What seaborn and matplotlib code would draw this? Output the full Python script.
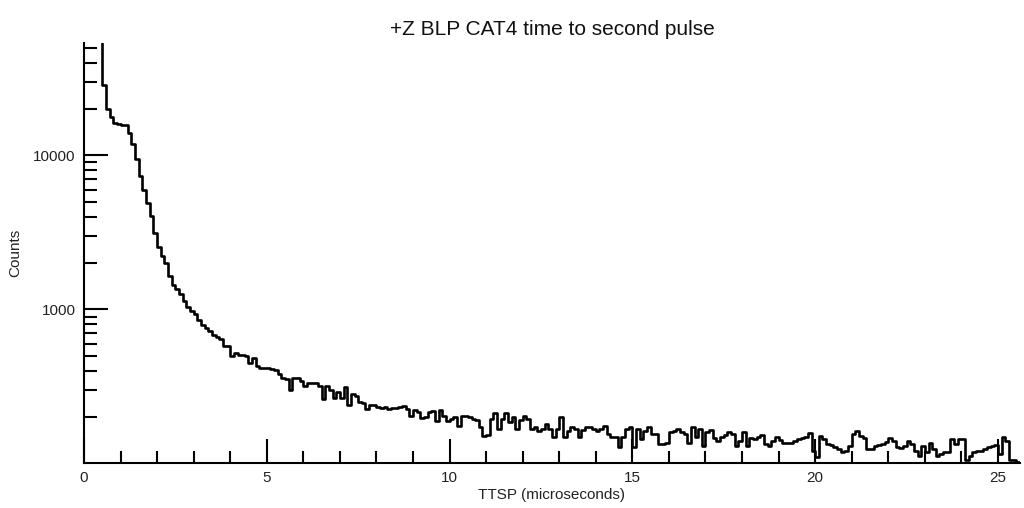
import numpy as np
import pandas as pd
import seaborn as sns
import matplotlib.pyplot as plt
from matplotlib.ticker import LogLocator, MultipleLocator, NullFormatter

# histogram of time to second pulse, bins of 0.1 us starting at 0
bin_width = 0.1
counts_0_to_3 = [80000, 80000, 80000, 80000, 80000,
                 28400, 20000, 17700, 16200, 15900,
                 15800, 15800, 13970, 11900, 9520,
                 7390, 6000, 4920, 4030, 3145,
                 2550, 2220, 1990, 1650, 1440,
                 1350, 1255, 1135, 1043, 977]
counts_3_to_6 = [940, 855, 790, 760, 726, 681, 664, 642, 581, 576,
                 496, 521, 510, 505, 500, 453, 481, 427, 420, 418,
                 415, 410, 406, 381, 362, 353, 301, 357, 362, 344]
counts_6_to_9 = [320, 336, 333, 333, 320, 263, 317, 300, 265, 290,
                 265, 312, 240, 282, 276, 250, 248, 226, 240, 240,
                 232, 228, 232, 226, 230, 228, 232, 237, 226, 205]
counts_9_to_12 = [224, 215, 197, 200, 215, 218, 190, 222, 205, 190,
                  195, 200, 176, 205, 205, 202, 195, 192, 174, 152,
                  153, 195, 213, 168, 195, 213, 185, 200, 168, 193]
counts_12_to_15 = [205, 195, 168, 172, 164, 168, 180, 168, 148, 168,
                   200, 148, 164, 174, 168, 150, 166, 172, 172, 168,
                   164, 168, 176, 156, 150, 148, 128, 148, 168, 172]
counts_15_to_18 = [128, 168, 145, 164, 172, 156, 156, 134, 134, 137,
                   160, 164, 168, 160, 155, 136, 172, 150, 168, 131,
                   160, 165, 147, 141, 148, 153, 160, 155, 131, 140]
counts_18_to_21 = [160, 130, 146, 145, 150, 154, 135, 130, 140, 150,
                   143, 137, 137, 137, 140, 145, 147, 150, 158, 120,
                   110, 152, 145, 134, 133, 128, 125, 119, 121, 130]
counts_21_to_24 = [155, 164, 152, 146, 125, 125, 130, 133, 134, 138,
                   146, 140, 128, 127, 131, 140, 134, 121, 112, 131,
                   119, 137, 125, 112, 116, 119, 119, 145, 134, 145]
counts_24_to_256 = [145, 105, 112, 119, 121, 121, 125, 128, 130, 133,
                    116, 148, 140, 105, 105, 103]

counts = (counts_0_to_3 + counts_3_to_6 + counts_6_to_9 + counts_9_to_12
          + counts_12_to_15 + counts_15_to_18 + counts_18_to_21
          + counts_21_to_24 + counts_24_to_256)
left_edges = np.arange(len(counts)) * bin_width

# repeat last value at the right edge so the final step is drawn
df = pd.DataFrame({'TTSP': np.append(left_edges, len(counts) * bin_width),
                   'Counts': counts + [counts[-1]]})

sns.set_style('ticks')
plt.rcParams['font.family'] = ['Liberation Sans', 'DejaVu Sans']

fig = plt.figure(figsize=(10.24, 5.08), dpi=100)
ax = fig.add_axes([0.082, 0.0886, 0.914, 0.8264])

sns.lineplot(data=df, x='TTSP', y='Counts', drawstyle='steps-post',
             color='black', linewidth=1.9, ax=ax)

ax.set_yscale('log')
ax.set_xlim(0, 25.6)
ax.set_ylim(101, 53400)

ax.xaxis.set_major_locator(MultipleLocator(5))
ax.xaxis.set_minor_locator(MultipleLocator(1))
ax.set_yticks([1000, 10000])
ax.set_yticklabels(['1000', '10000'])
ax.yaxis.set_minor_locator(LogLocator(base=10, subs=np.arange(2, 10)))
ax.yaxis.set_minor_formatter(NullFormatter())

ax.tick_params(which='both', direction='in', color='black', width=1.5,
               labelsize=11, labelcolor='#222222')
ax.tick_params(which='major', length=17.5, pad=6)
ax.tick_params(which='minor', length=9)

for side in ['top', 'right']:
    ax.spines[side].set_visible(False)
for side in ['left', 'bottom']:
    ax.spines[side].set_color('black')
    ax.spines[side].set_linewidth(1.5)

ax.set_xlabel('TTSP (microseconds)', fontsize=11, labelpad=2, color='#222222')
ax.set_ylabel('Counts', fontsize=11, labelpad=8, color='#222222')
ax.set_title('+Z BLP CAT4 time to second pulse', fontsize=15, pad=6,
             color='#111111')

fig.savefig('out.png', dpi=100)
